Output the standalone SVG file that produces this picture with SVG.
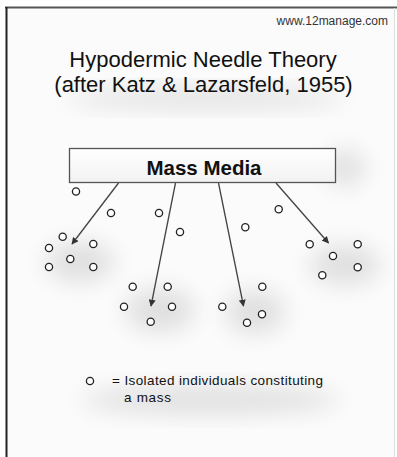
<svg xmlns="http://www.w3.org/2000/svg" width="397" height="457" viewBox="0 0 397 457">
  <style>
    .t { font-family: "Liberation Sans", Arial, sans-serif; fill: #111; }
    .ind { fill: #fff; stroke: #222; stroke-width: 1.3; }
    .conn { stroke: #444; stroke-width: 1.3; fill: none; marker-end: url(#ah); }
    .sh { fill: #000; opacity: 0.11; filter: url(#blur); }
  </style>
  <defs>
    <marker id="ah" viewBox="0 0 10 10" refX="9" refY="5" markerWidth="7" markerHeight="7" markerUnits="userSpaceOnUse" orient="auto">
      <path d="M0,0 L10,5 L0,10 Z" fill="#333"/>
    </marker>
    <filter id="blur" x="-50%" y="-50%" width="200%" height="200%">
      <feGaussianBlur stdDeviation="12"/>
    </filter>
    <linearGradient id="boxg" x1="0" y1="0" x2="0" y2="1">
      <stop offset="0" stop-color="#ffffff"/>
      <stop offset="1" stop-color="#f2f2f2"/>
    </linearGradient>
  </defs>

  <rect x="0" y="0" width="397" height="457" fill="#ffffff"/>
  <rect x="7" y="8" width="387" height="449" fill="#fbfbfb"/>

  <!-- soft shadows -->
  <g id="shadows">
    <ellipse class="sh" cx="205" cy="98" rx="140" ry="10"/>
    <ellipse class="sh" cx="345" cy="168" rx="20" ry="18"/>
    <ellipse class="sh" cx="80" cy="262" rx="35" ry="20"/>
    <ellipse class="sh" cx="160" cy="310" rx="35" ry="22"/>
    <ellipse class="sh" cx="255" cy="312" rx="30" ry="22"/>
    <ellipse class="sh" cx="345" cy="265" rx="35" ry="20"/>
    <ellipse class="sh" cx="210" cy="400" rx="130" ry="14"/>
  </g>

  <!-- frame -->
  <line x1="5" y1="7.5" x2="397" y2="7.5" stroke="#555" stroke-width="2"/>
  <line x1="6.5" y1="7" x2="6.5" y2="457" stroke="#222" stroke-width="2"/>
  <line x1="394.5" y1="8" x2="394.5" y2="457" stroke="#ddd" stroke-width="1"/>

  <g id="url">
    <text class="t" x="388" y="25" font-size="12" text-anchor="end" style="fill:#333">www.12manage.com</text>
  </g>

  <g id="title">
    <text class="t" x="203" y="67" font-size="22" text-anchor="middle">Hypodermic Needle Theory</text>
    <text class="t" x="203.5" y="92" font-size="22" text-anchor="middle">(after Katz &amp; Lazarsfeld, 1955)</text>
  </g>

  <g id="mass-media">
    <rect x="69.5" y="148.5" width="266" height="34" fill="url(#boxg)" stroke="#555" stroke-width="1.3"/>
    <text class="t" x="204" y="175" font-size="20.5" font-weight="bold" text-anchor="middle">Mass Media</text>
  </g>

  <g id="connectors">
    <line class="conn" x1="118.5" y1="183" x2="72" y2="244"/>
    <line class="conn" x1="175.5" y1="183" x2="151" y2="306"/>
    <line class="conn" x1="218.5" y1="183" x2="243.5" y2="306"/>
    <line class="conn" x1="276" y1="183" x2="328.5" y2="243"/>
  </g>

  <g id="individuals">
    <circle class="ind" cx="76" cy="191.5" r="3.6"/>
    <circle class="ind" cx="111" cy="213" r="3.6"/>
    <circle class="ind" cx="159" cy="213" r="3.6"/>
    <circle class="ind" cx="180" cy="232" r="3.6"/>
    <circle class="ind" cx="62.7" cy="236.7" r="3.6"/>
    <circle class="ind" cx="49" cy="248" r="3.6"/>
    <circle class="ind" cx="93.3" cy="244" r="3.6"/>
    <circle class="ind" cx="70.3" cy="259" r="3.6"/>
    <circle class="ind" cx="49" cy="267" r="3.6"/>
    <circle class="ind" cx="93.3" cy="267" r="3.6"/>
    <circle class="ind" cx="132.7" cy="286.7" r="3.6"/>
    <circle class="ind" cx="167.7" cy="286.7" r="3.6"/>
    <circle class="ind" cx="124" cy="306.7" r="3.6"/>
    <circle class="ind" cx="172" cy="306.7" r="3.6"/>
    <circle class="ind" cx="150.7" cy="321.7" r="3.6"/>
    <circle class="ind" cx="278.7" cy="209.3" r="3.6"/>
    <circle class="ind" cx="245.3" cy="227.3" r="3.6"/>
    <circle class="ind" cx="309.7" cy="244.3" r="3.6"/>
    <circle class="ind" cx="357.7" cy="244.3" r="3.6"/>
    <circle class="ind" cx="333" cy="256" r="3.6"/>
    <circle class="ind" cx="357.7" cy="267.3" r="3.6"/>
    <circle class="ind" cx="322.3" cy="275.3" r="3.6"/>
    <circle class="ind" cx="262.3" cy="286.7" r="3.6"/>
    <circle class="ind" cx="222.3" cy="306.7" r="3.6"/>
    <circle class="ind" cx="262" cy="314.3" r="3.6"/>
    <circle class="ind" cx="247" cy="322.7" r="3.6"/>
  </g>

  <g id="legend">
    <circle class="ind" cx="90" cy="381" r="3.6"/>
    <text class="t" x="112" y="385" font-size="13.5" textLength="211" lengthAdjust="spacing">= Isolated individuals constituting</text>
    <text class="t" x="124" y="401.5" font-size="13.5" textLength="47" lengthAdjust="spacing">a mass</text>
  </g>
</svg>
